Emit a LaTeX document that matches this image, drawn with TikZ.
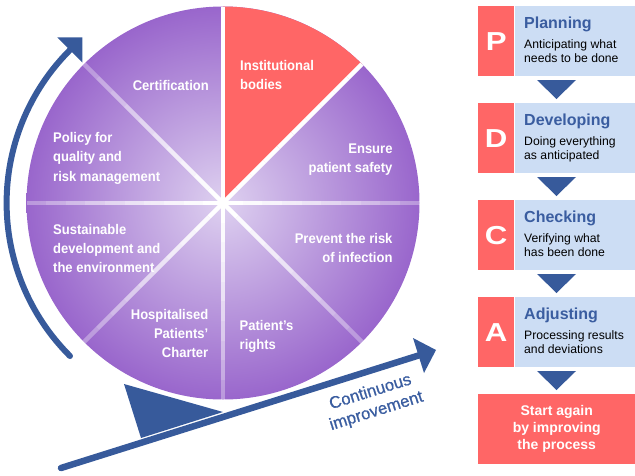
\documentclass[tikz,border=0pt]{standalone}
\usepackage{fontspec}
\setmainfont{Liberation Sans}
\newfontfamily\wheelfont[FakeStretch=0.93]{Liberation Sans}
\newfontfamily\letterfont[FakeStretch=1.2]{Liberation Sans}
\newfontfamily\cifont[FakeBold=0.8]{Liberation Sans}
\usetikzlibrary{calc}
\definecolor{pdcared}{HTML}{FF6666}
\definecolor{lightbox}{HTML}{CCDDF4}
\definecolor{arrowblue}{HTML}{375A9B}
\definecolor{titleblue}{HTML}{3A5DA0}
\definecolor{wheelin}{HTML}{DED1F0}
\definecolor{wheelout}{HTML}{9966CC}
\pgfdeclareradialshading{wheelshade}{\pgfpoint{0bp}{0bp}}{color(0bp)=(wheelin); color(25bp)=(wheelout); color(50bp)=(wheelout)}
\newcommand\wtl[1]{\begin{tabular}[t]{@{}l@{}}#1\end{tabular}}
\newcommand\wtr[1]{\begin{tabular}[t]{@{}r@{}}#1\end{tabular}}
\tikzset{
  wheeltext/.style={inner sep=0pt, text=white, font=\wheelfont\bfseries\fontsize{14}{19.2}\selectfont},
  letterbox/.style={fill=pdcared, inner sep=0pt, minimum width=36pt, minimum height=70pt, anchor=north west, text=white, font=\letterfont\bfseries\fontsize{26}{26}\selectfont},
  infobox/.style={fill=lightbox, inner sep=0pt, minimum width=120pt, minimum height=70pt, anchor=north west},
  steptitle/.style={inner sep=0pt, anchor=base west, text=titleblue, font=\bfseries\fontsize{16}{16}\selectfont},
  stepbody/.style={inner sep=0pt, anchor=base west, text=black, font=\fontsize{12.2}{14.4}\selectfont},
  downarrow/.style={fill=arrowblue},
  finalbox/.style={fill=pdcared, inner sep=0pt, minimum width=157pt, minimum height=70pt, anchor=north west, text=white, align=center, font=\bfseries\fontsize{14}{17}\selectfont},
}
\begin{document}
\begin{tikzpicture}[x=1pt,y=-1pt]
\useasboundingbox (0,0) rectangle (635,475);
% wheel
\coordinate (c) at (223,203);
\shade[shading=wheelshade] (c) circle[radius=196.5];
\fill[pdcared] (c) -- ($(c)+(-90:196.5)$) arc[start angle=-90,end angle=-45,radius=196.5] -- cycle;
\foreach \a/\full in {0/0,45/0,90/0,135/0,180/0,225/0,270/1,315/1} {
  \foreach \i in {0,...,9} {
    \pgfmathsetmacro\op{\full==1 ? 1 : 1-0.075*\i}
    \pgfmathsetmacro\ra{\i*19.65}
    \pgfmathsetmacro\rb{(\i+1)*19.65}
    \draw[white, line width=4.5pt, opacity=\op] ($(c)+(\a:\ra)$) -- ($(c)+(\a:\rb)$);
  }
}
% wheel texts
\node[wheeltext, anchor=base east] (cert) at (209,90) {Certification};
\node[wheeltext, anchor=base west] (inst) at (240,70.7) {\wtl{Institutional\\bodies}};
\node[wheeltext, anchor=base east] (safe) at (392.7,153.3) {\wtr{Ensure\\patient safety}};
\node[wheeltext, anchor=base east] (infec) at (392.7,243.3) {\wtr{Prevent the risk\\of infection}};
\node[wheeltext, anchor=base west] (rights) at (239.5,330) {\wtl{Patient’s\\rights}};
\node[wheeltext, anchor=base east] (charter) at (208.5,319) {\wtr{Hospitalised\\Patients’\\Charter}};
\node[wheeltext, anchor=base west] (sust) at (53,234.3) {\wtl{Sustainable\\development and\\the environment}};
\node[wheeltext, anchor=base west] (policy) at (53,142.7) {\wtl{Policy for\\quality and\\risk management}};
% circular arrow
\coordinate (a1) at ($(c)+(135:216.4)$);
\coordinate (b1) at ($(c)+(225:216.4)$);
\draw[arrowblue, line width=6pt, line cap=round] (a1) arc[start angle=135, end angle=225, radius=216.4];
\fill[arrowblue] ($(b1)+(225:17.7)$) -- ($(b1)+(315:17.7)$) -- ($(b1)+(45:17.7)$) -- cycle;
% straight arrow
\coordinate (s2) at (61,468);
\coordinate (b2) at (418.5,355.5);
\draw[arrowblue, line width=6.5pt, line cap=round] (s2) -- (b2);
\fill[arrowblue] ($(b2)+(-107.47:18.35)$) -- ($(b2)+(-17.47:18.35)$) -- ($(b2)+(72.53:18.35)$) -- cycle;
% wedge
\fill[arrowblue] (124,384) -- (223,412) -- (141,438) -- cycle;
\node[rotate=17.5, text=titleblue, inner sep=0pt, align=center, font=\cifont\fontsize{16.8}{20}\selectfont] (ci) at (373.5,402) {Continuous\\improvement};
% PDCA
\node[letterbox] (P) at (478,6) {P};
\node[infobox] (Pi) at (515,6) {};
\node[steptitle] (Pt) at (524,28.3) {Planning};
\node[stepbody] (Pb) at (524,48.3) {\wtl{Anticipating what\\needs to be done}};
\node[letterbox] (D) at (478,103) {D};
\node[infobox] (Di) at (515,103) {};
\node[steptitle] (Dt) at (524,125.3) {Developing};
\node[stepbody] (Db) at (524,145.3) {\wtl{Doing everything\\as anticipated}};
\node[letterbox] (C) at (478,200) {C};
\node[infobox] (Ci) at (515,200) {};
\node[steptitle] (Ct) at (524,222.3) {Checking};
\node[stepbody] (Cb) at (524,242.3) {\wtl{Verifying what\\has been done}};
\node[letterbox] (A) at (478,297) {A};
\node[infobox] (Ai) at (515,297) {};
\node[steptitle] (At) at (524,319.3) {Adjusting};
\node[stepbody] (Ab) at (524,339.3) {\wtl{Processing results\\and deviations}};
\node[finalbox] (F) at (478,394) {Start again\\by improving\\the process};
\foreach \y in {80,177,274,371} {
  \fill[downarrow] (537,\y) -- (576,\y) -- (556.5,\y+19) -- cycle;
}
\end{tikzpicture}
\end{document}
